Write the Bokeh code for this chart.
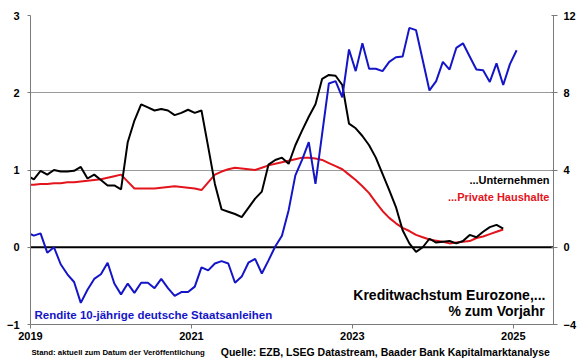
import pandas as pd
from bokeh.plotting import figure
from bokeh.layouts import column
from bokeh.models import Range1d, LinearAxis, FixedTicker, Span, Label
from bokeh.embed import file_html
from bokeh.resources import INLINE

# ---- data (monthly) ----
rendite_start = "2018-12"
# Rendite 10-jaehrige deutsche Staatsanleihen, % (left axis)
rendite = [0.19,
           0.15, 0.18, -0.07, 0.00, -0.22, -0.35, -0.45, -0.72, -0.55, -0.41, -0.35, -0.20,
           -0.47, -0.61, -0.47, -0.59, -0.46, -0.46, -0.53, -0.41, -0.53, -0.63, -0.58, -0.58,
           -0.51, -0.26, -0.30, -0.21, -0.18, -0.21, -0.46, -0.38, -0.20, -0.15, -0.34, -0.17,
           0.01, 0.15, 0.48, 0.93, 1.13, 1.36, 0.82, 1.47, 2.12, 2.15, 1.94, 2.56,
           2.28, 2.64, 2.31, 2.31, 2.28, 2.40, 2.46, 2.47, 2.84, 2.81, 2.42, 2.03,
           2.15, 2.40, 2.30, 2.58, 2.64, 2.47, 2.30, 2.29, 2.14, 2.38, 2.10, 2.37,
           2.55]

kredit_start = "2018-12"
# Kreditwachstum Eurozone, % zum Vorjahr (right axis)
unternehmen = [3.72,
               3.52, 3.96, 3.76, 4.00, 3.92, 3.92, 3.96, 4.16, 3.56, 3.76, 3.48, 3.20,
               3.20, 3.00, 5.44, 6.56, 7.40, 7.24, 7.08, 7.16, 7.08, 6.84, 6.96, 7.12,
               6.96, 7.08, 5.20, 3.28, 1.96, 1.84, 1.72, 1.56, 2.04, 2.52, 2.88, 4.28,
               4.52, 4.64, 4.32, 5.28, 6.04, 6.76, 7.40, 8.72, 8.92, 8.88, 8.40, 6.40,
               6.16, 5.76, 5.28, 4.64, 3.80, 2.96, 2.08, 0.88, 0.20, -0.24, 0.00, 0.44,
               0.24, 0.28, 0.32, 0.20, 0.32, 0.64, 0.52, 0.80, 1.04, 1.16, 0.96]
haushalte = [3.24,
             3.24, 3.28, 3.28, 3.32, 3.32, 3.36, 3.36, 3.40, 3.44, 3.48, 3.52, 3.60,
             3.68, 3.76, 3.40, 3.04, 3.04, 3.04, 3.04, 3.08, 3.12, 3.16, 3.12, 3.08,
             3.04, 2.96, 3.36, 3.76, 3.92, 4.04, 4.12, 4.08, 4.04, 4.00, 4.12, 4.24,
             4.32, 4.40, 4.48, 4.56, 4.64, 4.64, 4.60, 4.52, 4.36, 4.20, 4.04, 3.76,
             3.48, 3.16, 2.80, 2.32, 1.88, 1.52, 1.24, 1.00, 0.84, 0.64, 0.52, 0.40,
             0.34, 0.28, 0.20, 0.24, 0.28, 0.32, 0.48, 0.56, 0.68, 0.80, 0.92]

year_ticks = [2019, 2021, 2023, 2025]
left_ticks = [-1, 0, 1, 2, 3]
right_ticks = [-4, 0, 4, 8, 12]


def month_x(start, n):
    per = pd.period_range(start, periods=n, freq="M")
    return [q.year + (q.month - 0.5) / 12 for q in per]


x_r = month_x(rendite_start, len(rendite))
x_k = month_x(kredit_start, len(unternehmen))

BLUE = "#1515c8"
RED = "#e3141c"
FONT = "Liberation Sans"
W = 580

p = figure(width=W, height=345, output_backend="svg", toolbar_location=None,
           x_range=Range1d(2019, 2025.5), y_range=Range1d(-1, 3),
           min_border_left=30, min_border_right=27, min_border_top=15,
           min_border_bottom=21)
p.extra_y_ranges = {"kredit": Range1d(-4, 12)}
p.outline_line_color = None

# grid
p.xgrid.visible = False
p.ygrid.ticker = FixedTicker(ticks=[-1, 1, 2, 3])
p.ygrid.grid_line_color = "#9a9a9a"
p.ygrid.grid_line_width = 1

p.add_layout(Span(location=0, dimension="width", line_color="black",
                  line_width=2, level="underlay"))

# axes
p.xaxis.ticker = FixedTicker(ticks=year_ticks)
p.yaxis.ticker = FixedTicker(ticks=left_ticks)
right = LinearAxis(y_range_name="kredit", ticker=FixedTicker(ticks=right_ticks))
p.add_layout(right, "right")

for ax in [p.xaxis[0], p.yaxis[0], right]:
    ax.axis_line_color = "#7a7a7a"
    ax.axis_line_width = 1
    ax.major_tick_line_color = "#7a7a7a"
    ax.minor_tick_line_color = None
    ax.major_label_text_font = FONT
    ax.major_label_text_font_style = "bold"
    ax.major_label_text_font_size = "11px"
    ax.major_label_text_color = "black"

p.xaxis.major_tick_in = 0
p.xaxis.major_tick_out = 4
p.xaxis.major_label_standoff = 3
p.yaxis[0].major_tick_in = 0
p.yaxis[0].major_tick_out = 3
p.yaxis[0].major_label_standoff = 8
right.major_tick_in = 2
right.major_tick_out = 4
right.major_label_standoff = 6

# series
p.line(x_k, haushalte, y_range_name="kredit", line_color=RED, line_width=2)
p.line(x_k, unternehmen, y_range_name="kredit", line_color="black", line_width=2)
p.line(x_r, rendite, line_color=BLUE, line_width=2)


def lab(fig, x, y, text, size, color="black", align="left"):
    fig.add_layout(Label(x=x, y=y, text=text, text_font=FONT, text_font_style="bold",
                         text_font_size=size, text_color=color, text_align=align,
                         text_baseline="middle"))


lab(p, 2019.05, -0.88, "Rendite 10-jährige deutsche Staatsanleihen", "11.5px", BLUE)
lab(p, 2025.45, 0.87, "...Unternehmen", "11px", "black", "right")
lab(p, 2025.45, 0.65, "...Private Haushalte", "11px", RED, "right")
lab(p, 2025.40, -0.62, "Kreditwachstum Eurozone,...", "14px", "black", "right")
lab(p, 2025.39, -0.83, "% zum Vorjahr", "14px", "black", "right")

# footer strip
FH = 14
foot = figure(width=W, height=FH, output_backend="svg", toolbar_location=None,
              x_range=Range1d(0, W), y_range=Range1d(0, FH), min_border=0)
foot.axis.visible = False
foot.grid.visible = False
foot.outline_line_color = None
lab(foot, 1, 7.5, "Stand: aktuell zum Datum der Veröffentlichung", "7.8px")
lab(foot, 576, 8, "Quelle: EZB, LSEG Datastream, Baader Bank Kapitalmarktanalyse",
    "10.5px", "black", "right")

open("out.html", "w").write(file_html(column(p, foot, spacing=0), INLINE))
